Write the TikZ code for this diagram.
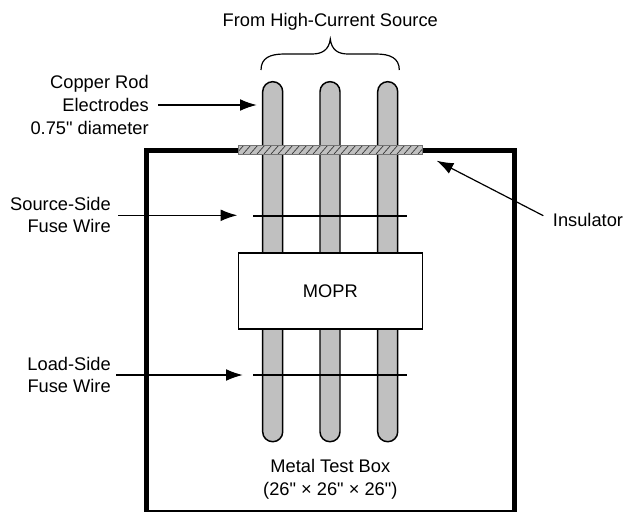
\documentclass[tikz,border=0pt]{standalone}
\usepackage{fontspec}
\setmainfont[Ligatures=TeXOff]{Liberation Sans}
\usetikzlibrary{arrows.meta}
\definecolor{rodgray}{RGB}{192,192,192}

\begin{document}
\begin{tikzpicture}[
		x=0.75pt, y=-0.75pt,
		every node/.style={font=\fontsize{13.7pt}{16.9pt}\selectfont, align=center},
		side label/.style={anchor=east, inner sep=0pt, align=right},
		rod/.style={draw, fill=rodgray, line width=1.1pt, rounded corners=7.4pt, minimum width=15pt, minimum height=270pt, inner sep=0pt},
		wire/.style={line width=1.5pt},
		pointer/.style={-{Latex[length=12.5pt, width=8.8pt]}, line width=0.9pt}
	]
  \useasboundingbox (0, 0) rectangle (624, 511);
  % test box
  \coordinate (box_bl) at (146.8, 512.3);
  \coordinate (box_tl) at (146.8, 150);
  \coordinate (box_tr) at (514, 150);
  \coordinate (box_br) at (514, 512.3);
  \draw [line width=3.75pt, line join=miter] (box_bl) -- (box_tl) -- (box_tr) -- (box_br) -- cycle;
  % rods
  \foreach \x/\name in {272.7/a, 330/b, 387.7/c} {
    \node (rod_\name) [rod] at (\x, 261.7) {};
  }
  % insulator
  \node (ins) [fill=rodgray, minimum width=138pt, minimum height=6pt, inner sep=0pt] at (330.3, 149.7) {};
  \begin{scope}
    \clip (ins.south west) rectangle (ins.north east);
    \foreach \x in {236, 243, ..., 430} {
      \draw [line width=0.5pt, black!80] (\x, 154) -- (\x + 8, 145);
    }
  \end{scope}
  \draw [black!55, line width=0.7pt] (ins.south west) rectangle (ins.north east);
  % fuse wires
  \coordinate (src_l) at (253.3, 215.5);
  \coordinate (src_r) at (407.3, 215.5);
  \coordinate (load_l) at (253.3, 375);
  \coordinate (load_r) at (407.3, 375);
  \draw [wire] (src_l) -- (src_r);
  \draw [wire] (load_l) -- (load_r);
  \node (mopr) [draw, fill=white, line width=0.9pt, minimum width=138pt, minimum height=57pt, inner sep=0pt] at (330.3, 291) {MOPR};
  % brace
  \coordinate (br_l) at (261, 70);
  \coordinate (br_r) at (399.3, 70);
  \coordinate (br_tip) at (330.3, 39);
  \draw [line width=0.9pt] (br_l) .. controls (261, 58) and (270, 54) .. (284, 54)
    -- (312, 54) .. controls (322, 54) and (329, 50) .. (br_tip)
    .. controls (331.6, 50) and (338, 54) .. (348, 54)
    -- (376, 54) .. controls (390, 54) and (399.3, 58) .. (br_r);
  % labels
  \node (from) at (330.3, 21.5) {From High-Current Source};
  \node (rod_txt) [side label] at (149, 105) {Copper Rod\\Electrodes\\0.75" diameter};
  \node (src_txt) [side label] at (111, 215) {Source-Side\\Fuse Wire};
  \node (load_txt) [side label] at (111, 375) {Load-Side\\Fuse Wire};
  \node (ins_txt) [anchor=west, inner sep=0pt] at (552.7, 219.5) {Insulator};
  \node (box_txt) at (330.3, 479) {Metal Test Box\\(26" × 26" × 26")};
  % pointers
  \coordinate (rod_tail) at (158.3, 105);
  \coordinate (rod_tip) at (256.7, 105);
  \coordinate (src_tail) at (118, 215.3);
  \coordinate (src_tip) at (237.3, 215.3);
  \coordinate (load_tail) at (116, 375);
  \coordinate (load_tip) at (242.7, 375);
  \coordinate (ins_tail) at (543.3, 215.7);
  \coordinate (ins_tip) at (436.7, 160.7);
  \draw [pointer] (rod_tail) -- (rod_tip);
  \draw [pointer] (src_tail) -- (src_tip);
  \draw [pointer] (load_tail) -- (load_tip);
  \draw [pointer] (ins_tail) -- (ins_tip);
\end{tikzpicture}
\end{document}
